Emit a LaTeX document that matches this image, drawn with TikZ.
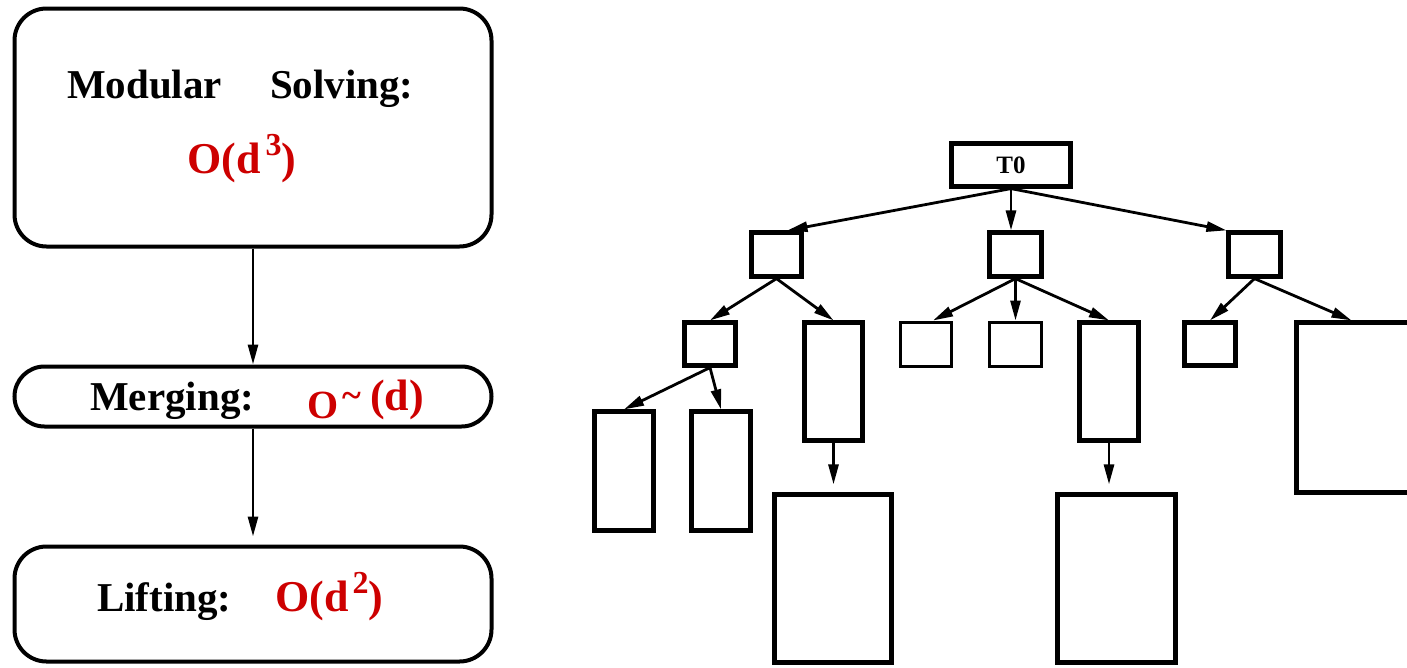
\documentclass[tikz,border=0pt]{standalone}
\usepackage{fontspec}
\setmainfont{Liberation Serif}
\usetikzlibrary{arrows.meta}
\definecolor{costred}{RGB}{205,0,0}
\newcommand{\fsz}[1]{\fontsize{#1}{#1}\selectfont}

\begin{document}
\begin{tikzpicture}[x=1pt,y=-1pt,
  stage/.style={draw, line width=4pt, inner sep=0pt, minimum width=477pt},
  blk/.style={draw, line width=4.2pt, inner sep=0pt, rectangle},
  thinblk/.style={blk, line width=3pt},
  lbl/.style={inner sep=0pt, anchor=base west, font=\bfseries\fsz{41}},
  cost/.style={inner sep=0pt, anchor=base west, text=costred, font=\bfseries\fsz{44}},
  arr/.style={line width=2.8pt, -{Triangle[length=20pt,width=10pt]}},
]
\useasboundingbox (0,0) rectangle (1407,667);
\clip (0,0) rectangle (1407,667);

% ---- pipeline of stages ----
\node[stage, rounded corners=32pt, minimum height=238pt] (mod) at (253,127.5) {};
\node[stage, rounded corners=30pt, minimum height=60pt]  (mer) at (253,396.5) {};
\node[stage, rounded corners=32pt, minimum height=115pt] (lif) at (253,604) {};

\node[lbl] (modtxt) at (67,98) {Modular\hspace{48pt}Solving:};
\node[cost] (modcost) at (187,173) {O(d\hspace{5pt}\raisebox{18pt}{\fsz{32}3})};

\node[lbl] (mertxt) at (90,410) {Merging:};
\node[cost, font=\bfseries\fsz{40}] (mero) at (307,418) {O};
\node[cost, font=\bfseries\fsz{36}] (mertilde) at (342,407) {\char`\~};
\node[cost] (merd) at (370,410) {(d)};

\node[lbl] (liftxt) at (97,611) {Lifting:};
\node[cost] (lifcost) at (275,611) {O(d\hspace{4pt}\raisebox{18pt}{\fsz{32}2})};

\draw[arr] (mod) -- (mer);
\draw[arr, shorten >=8pt] (mer) -- (lif);

% ---- tree of subproblems ----
\node[blk, minimum width=119pt, minimum height=43pt, font=\bfseries\fsz{25}] (T0) at (1011,165) {T0};

\node[blk, minimum width=50pt, minimum height=44pt] (A) at (776.5,254.5) {};
\node[blk, minimum width=52pt, minimum height=44pt] (B) at (1015.5,254.5) {};
\node[blk, minimum width=52pt, minimum height=44pt] (C) at (1254.5,254.5) {};

\node[blk, minimum width=51pt, minimum height=43pt] (D) at (710,344) {};
\node[blk, minimum width=58pt, minimum height=118pt] (E) at (833.5,381.5) {};
\node[thinblk, minimum width=51pt, minimum height=44pt] (F) at (926,344) {};
\node[thinblk, minimum width=52pt, minimum height=44pt] (G) at (1015.5,344) {};
\node[blk, minimum width=59pt, minimum height=118pt] (H) at (1109,381.5) {};
\node[blk, minimum width=51pt, minimum height=43pt] (I) at (1210,344) {};
\node[blk, minimum width=114pt, minimum height=170pt] (J) at (1353.5,407.5) {};

\node[blk, minimum width=59pt, minimum height=119pt] (K) at (624,471) {};
\node[blk, minimum width=59pt, minimum height=119pt] (L) at (721,471) {};
\node[blk, minimum width=117pt, minimum height=168pt] (M) at (833,578.5) {};
\node[blk, minimum width=118pt, minimum height=168pt] (N) at (1116.5,578.5) {};

\draw[arr] (T0.south) -- ([xshift=11pt]A.north);
\draw[arr] (T0.south) -- (T0.south |- B.north);
\draw[arr] (T0.south) -- (C.north west);

\draw[arr] (A.south) -- (D.north);
\draw[arr] (A.south) -- (E.north);

\draw[arr] (B.south) -- ([xshift=7pt]F.north);
\draw[arr] (B.south) -- (B.south |- G.north);
\draw[arr] (B.south) -- (H.north);

\draw[arr] (C.south) -- (I.north);
\draw[arr] (C.south) -- ([xshift=-2pt]J.north);

\draw[arr] (D.south) -- (K.north);
\draw[arr] (D.south) -- (L.north);

\draw[arr, shorten >=8pt] (E.south) -- (E.south |- M.north);
\draw[arr, shorten >=8pt] (H.south) -- (H.south |- N.north);
\end{tikzpicture}
\end{document}
